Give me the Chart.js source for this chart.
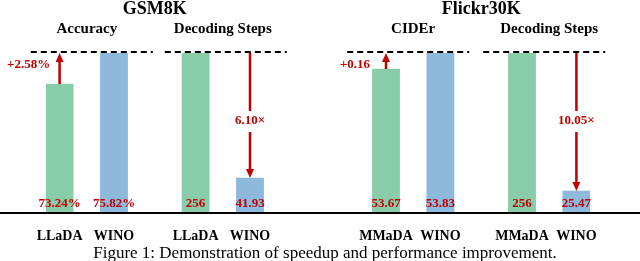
<!DOCTYPE html>
<html>
<head>
<meta charset="utf-8">
<script src="https://cdn.jsdelivr.net/npm/chart.js@4/dist/chart.umd.min.js"></script>
<style>
  html, body { margin: 0; padding: 0; background: #fff; }
  #wrap { width: 640px; height: 261px; }
</style>
</head>
<body>
<div id="wrap"><canvas id="c"></canvas></div>
<script>
'use strict';

// bar slots along the x axis; '' are spacer slots between panels
const xLabels = ['LLaDA', '', 'WINO', '', '', 'LLaDA', '', 'WINO', '', '', '', '',
                 'MMaDA', '', 'WINO', '', '', 'MMaDA', '', 'WINO'];

const benchNames = ['GSM8K', 'Flickr30K'];
const panelNames = ['Accuracy', 'Decoding Steps', 'CIDEr', 'Decoding Steps'];
const panelValues = [[73.24, 75.82], [256, 41.93], [53.67, 53.83], [256, 25.47]];
const valueLabels = [['73.24%', '75.82%'], ['256', '41.93'], ['53.67', '53.83'], ['256', '25.47']];
const gainLabels = ['+2.58%', '6.10×', '+0.16', '10.05×'];
// floor of each panel's (broken) value axis
const axisMin = [62.5, -18, 52.23, -11.3];

const GREEN = '#88cca9';
const BLUE = '#8db9dd';
const RED = '#c00000';
const SERIF = '"Liberation Serif", "Times New Roman", serif';
// small nudge of each dashed line relative to its bar pair
const dashShift = [5, 3, -5, -5];

const slots = xLabels.map((l, i) => (l ? i : -1)).filter(i => i >= 0);

const datasets = panelValues.map((vals, p) => {
  const data = xLabels.map(() => null);
  data[slots[2 * p]] = vals[0];
  data[slots[2 * p + 1]] = vals[1];
  return {
    label: panelNames[p],
    data: data,
    yAxisID: 'y' + p,
    base: axisMin[p],
    grouped: false,
    backgroundColor: xLabels.map((l, i) => (i === slots[2 * p] ? GREEN : BLUE)),
    borderWidth: 0,
    barPercentage: 1,
    categoryPercentage: 1
  };
});

const scales = {
  x: {
    grid: { display: false, drawTicks: false },
    border: { display: false },
    ticks: {
      padding: 16,
      color: '#000',
      autoSkip: false,
      maxRotation: 0,
      font: { family: SERIF, size: 14, weight: 'bold', lineHeight: 1 }
    }
  }
};
panelValues.forEach((vals, p) => {
  scales['y' + p] = { display: false, min: axisMin[p], max: Math.max(...vals) };
});

function arrow(ctx, x, y0, y1) {
  // line from y0 to y1, head at y1
  const dir = y1 > y0 ? 1 : -1;
  ctx.strokeStyle = RED;
  ctx.fillStyle = RED;
  ctx.lineWidth = 2.5;
  ctx.beginPath();
  ctx.moveTo(x, y0);
  ctx.lineTo(x, y1 - dir * 7);
  ctx.stroke();
  ctx.beginPath();
  ctx.moveTo(x, y1);
  ctx.lineTo(x - 4, y1 - dir * 9);
  ctx.lineTo(x + 4, y1 - dir * 9);
  ctx.closePath();
  ctx.fill();
}

const annotate = {
  id: 'annotate',
  afterDatasetsDraw(chart) {
    const ctx = chart.ctx;
    const area = chart.chartArea;
    ctx.save();

    const bars = panelValues.map((v, p) => {
      const meta = chart.getDatasetMeta(p);
      return [meta.data[slots[2 * p]], meta.data[slots[2 * p + 1]]];
    });

    // baseline
    ctx.strokeStyle = '#000';
    ctx.lineWidth = 2;
    ctx.beginPath();
    ctx.moveTo(0, area.bottom);
    ctx.lineTo(chart.width, area.bottom);
    ctx.stroke();

    ctx.textAlign = 'center';
    ctx.textBaseline = 'alphabetic';

    bars.forEach((pair, p) => {
      const [a, b] = pair;
      const topY = Math.min(a.y, b.y);
      const mid = (a.x + b.x) / 2;

      // dashed reference line
      ctx.strokeStyle = '#000';
      ctx.lineWidth = 2;
      ctx.setLineDash([6, 4]);
      ctx.beginPath();
      ctx.moveTo(mid + dashShift[p] - 61, topY - 1);
      ctx.lineTo(mid + dashShift[p] + 61, topY - 1);
      ctx.stroke();
      ctx.setLineDash([]);

      // panel subtitle
      ctx.fillStyle = '#000';
      ctx.font = 'bold 15px ' + SERIF;
      ctx.fillText(panelNames[p], mid, 33);

      // values inside bars
      ctx.fillStyle = RED;
      ctx.font = 'bold 13px ' + SERIF;
      pair.forEach((bar, k) => {
        ctx.fillText(valueLabels[p][k], bar.x, area.bottom - 6);
      });

      if (p % 2 === 0) {
        arrow(ctx, a.x, a.y, topY);
        ctx.fillStyle = RED;
        ctx.font = 'bold 13px ' + SERIF;
        ctx.fillText(gainLabels[p], a.x - 31, topY + 15);
      } else {
        arrow(ctx, b.x, topY, b.y);
        const ly = area.top + 71;
        ctx.fillStyle = '#fff';
        ctx.fillRect(b.x - 22, ly - 13, 44, 21);
        ctx.fillStyle = RED;
        ctx.font = 'bold 13px ' + SERIF;
        ctx.fillText(gainLabels[p], b.x, ly);
      }
    });

    // benchmark titles
    ctx.fillStyle = '#000';
    ctx.font = 'bold 18px ' + SERIF;
    benchNames.forEach((name, k) => {
      const x = (bars[2 * k][0].x + bars[2 * k + 1][1].x) / 2;
      ctx.fillText(name, x, 14);
    });

    // caption
    ctx.font = '17px ' + SERIF;
    ctx.fillText('Figure 1: Demonstration of speedup and performance improvement.', chart.width / 2 + 5, 258);
    ctx.restore();
  }
};

new Chart(document.getElementById('c'), {
  type: 'bar',
  data: { labels: xLabels, datasets: datasets },
  options: {
    responsive: true,
    maintainAspectRatio: false,
    animation: false,
    layout: { padding: { left: 46, right: 50, top: 53, bottom: 2 } },
    plugins: { legend: { display: false }, tooltip: { enabled: false } },
    scales: scales
  },
  plugins: [annotate]
});
</script>
</body>
</html>
